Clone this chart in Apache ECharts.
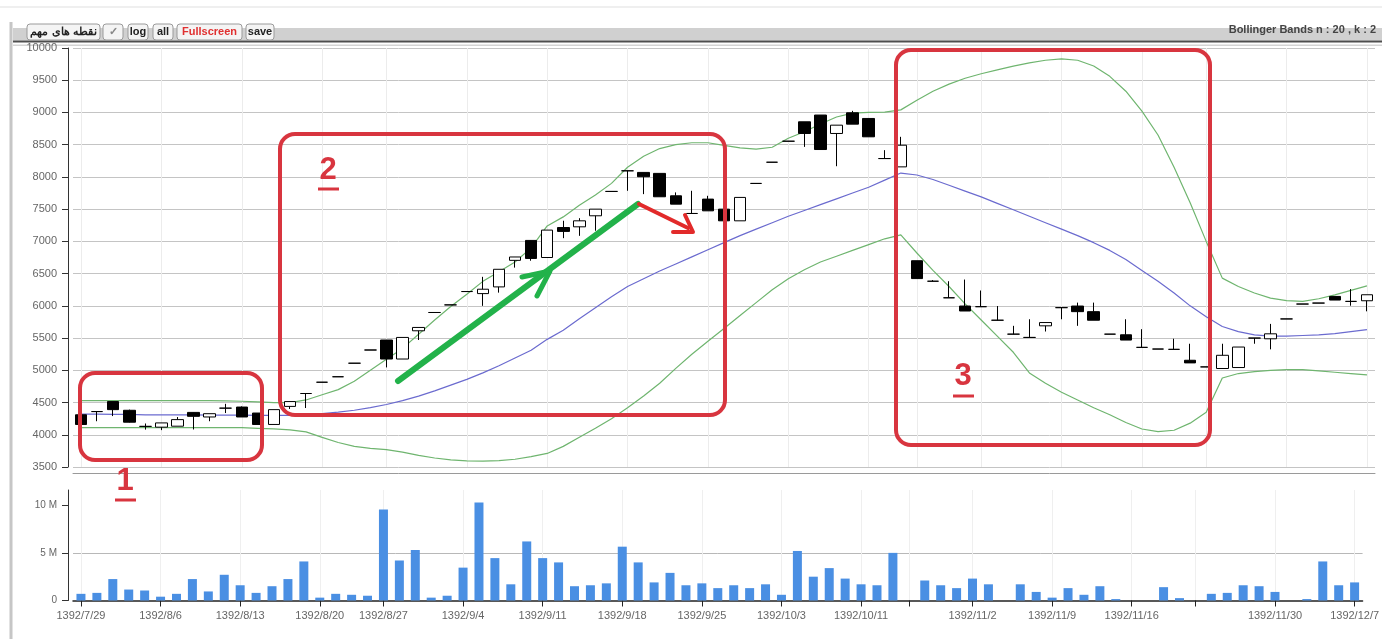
<!DOCTYPE html>
<html><head><meta charset="utf-8">
<script src="https://cdn.jsdelivr.net/npm/echarts@6/dist/echarts.min.js"></script>
<style>html,body{margin:0;padding:0;background:#fff}#c{width:1382px;height:639px}</style>
</head><body><div id="c"></div>
<script>
const categories = [
'1392/7/29','1392/7/30','1392/8/1','1392/8/4','1392/8/5','1392/8/6','1392/8/7','1392/8/8','1392/8/11','1392/8/12',
'1392/8/13','1392/8/14','1392/8/15','1392/8/18','1392/8/19','1392/8/20','1392/8/21','1392/8/25','1392/8/26','1392/8/27',
'1392/8/28','1392/8/29','1392/9/2','1392/9/3','1392/9/4','1392/9/5','1392/9/6','1392/9/9','1392/9/10','1392/9/11',
'1392/9/12','1392/9/13','1392/9/16','1392/9/17','1392/9/18','1392/9/19','1392/9/20','1392/9/23','1392/9/24','1392/9/25',
'1392/9/26','1392/9/27','1392/10/1','1392/10/2','1392/10/3','1392/10/7','1392/10/8','1392/10/9','1392/10/10','1392/10/11',
'1392/10/14','1392/10/15','1392/10/16','1392/10/29','1392/10/30','1392/11/1','1392/11/2','1392/11/5','1392/11/6','1392/11/7',
'1392/11/8','1392/11/9','1392/11/12','1392/11/13','1392/11/14','1392/11/15','1392/11/16','1392/11/19','1392/11/20','1392/11/21',
'1392/11/23','1392/11/26','1392/11/27','1392/11/28','1392/11/29','1392/11/30','1392/12/3','1392/12/4','1392/12/5','1392/12/6',
'1392/12/7'];

const opens = [4310,4360,4515,4380,4130,4118,4133,4347,4276,4413,4430,4337,4160,4440,4640,4815,4900,5110,5315,5470,
5175,5613,5897,6015,6222,6190,6294,6706,7015,6750,7215,7226,7397,7775,8095,8070,8055,7707,7433,7656,
7500,7319,7899,8228,8554,8855,8960,8674,8995,8907,8285,8156,6700,6382,6125,5997,5987,5777,5561,5510,
5690,5972,5997,5910,5561,5551,5356,5330,5325,5156,5053,5028,5043,5500,5489,5797,6028,6043,6146,6069,6079];
const closes = [4160,4360,4390,4195,4130,4184,4235,4286,4327,4413,4276,4160,4390,4515,4640,4815,4900,5110,5315,5175,
5510,5665,5897,6015,6222,6258,6567,6758,6735,7175,7155,7319,7500,7775,8095,8003,7692,7578,7433,7474,
7319,7682,7899,8228,8554,8674,8425,8803,8819,8622,8285,8492,6423,6382,6125,5920,5987,5777,5561,5510,
5741,5972,5910,5777,5561,5469,5356,5330,5325,5115,5053,5233,5361,5500,5566,5797,6028,6043,6090,6069,6172];
const lows = [4150,4210,4290,4190,4080,4072,4133,4082,4210,4337,4276,4160,4160,4400,4415,4815,4900,5110,5315,5045,
5175,5470,5897,6015,6222,6000,6205,6593,6700,6750,7050,7086,7165,7775,7785,7733,7692,7578,7433,7474,
7319,7319,7899,8228,8554,8466,8425,8166,8819,8622,8285,8156,6423,6382,6125,5920,5987,5777,5561,5510,
5602,5792,5690,5777,5561,5469,5356,5330,5325,5115,5053,5028,5043,5412,5325,5797,6028,6043,6090,6002,5915];
const highs = [4320,4360,4515,4390,4175,4184,4275,4350,4327,4480,4440,4337,4390,4515,4640,4815,4900,5110,5315,5470,
5510,5665,5897,6015,6222,6450,6567,6758,7020,7175,7320,7360,7500,7775,8095,8070,8055,7760,7785,7707,
7500,7682,7899,8228,8554,8855,8960,8803,9025,8907,8415,8622,6700,6400,6382,6408,6238,5997,5690,5792,
5741,5972,6050,6050,5561,5792,5638,5330,5490,5412,5053,5412,5361,5500,5720,5797,6028,6043,6146,6260,6172];

const bbUpper = [4530,4530,4530,4530,4530,4530,4530,4530,4530,4525,4520,4510,4500,4500,4540,4620,4700,4830,5000,5170,
5340,5560,5780,5990,6180,6380,6530,6680,6900,7240,7380,7560,7720,7900,8150,8320,8440,8500,8530,8530,
8490,8450,8430,8460,8600,8700,8820,8930,8990,9000,9005,9040,9190,9330,9440,9530,9600,9660,9720,9770,
9810,9830,9810,9720,9560,9330,9020,8650,8150,7600,7000,6430,6300,6200,6120,6080,6070,6110,6170,6240,6310];
const bbMiddle = [4320,4320,4315,4315,4310,4310,4310,4310,4305,4305,4305,4300,4300,4300,4310,4330,4350,4380,4420,4470,
4530,4600,4680,4770,4860,4960,5070,5190,5310,5480,5620,5800,5970,6140,6300,6420,6540,6650,6760,6870,
6980,7090,7190,7290,7390,7480,7570,7660,7750,7840,7950,8060,8030,7960,7870,7780,7690,7590,7490,7390,
7290,7190,7090,6980,6860,6720,6550,6380,6200,6000,5830,5680,5600,5550,5530,5530,5540,5550,5570,5600,5630];
const bbLower = [4110,4110,4110,4110,4110,4110,4110,4110,4110,4110,4110,4100,4090,4075,4045,3960,3880,3820,3790,3770,
3730,3680,3640,3610,3595,3590,3600,3620,3660,3710,3820,3960,4100,4250,4420,4600,4800,5030,5250,5450,
5650,5850,6050,6250,6420,6560,6680,6770,6860,6950,7040,7100,6820,6550,6300,6030,5780,5530,5280,4960,
4800,4660,4540,4420,4310,4190,4090,4050,4070,4180,4350,4880,4950,4980,5000,5010,5010,4990,4970,4950,4930];

// volume in millions
const volumes = [0.7,0.8,2.25,1.15,1.05,0.4,0.7,2.25,0.95,2.7,1.6,0.8,1.5,2.25,4.1,0.3,0.7,0.6,0.5,9.55,
4.2,5.3,0.3,0.5,3.45,10.3,4.45,1.7,6.2,4.45,4.0,1.5,1.6,1.8,5.65,4.0,1.9,2.9,1.6,1.8,
1.3,1.6,1.3,1.7,0.6,5.2,2.5,3.4,2.3,1.7,1.6,5.0,0,2.1,1.6,1.3,2.3,1.7,0,1.7,
0.9,0.3,1.3,0.6,1.5,0.15,0,0,1.4,0.25,0,0.7,0.8,1.6,1.5,0.9,0,0.15,4.1,1.6,1.9];

const tickIndexes = [0,5,10,15,19,24,29,34,39,44,49,52,56,61,66,70,75,80];
const unlabeledTicks = [52,70];
const volumeTicks = [0,5,10];

const chart = echarts.init(document.getElementById('c'), null, {renderer:'canvas'});
const candleData = categories.map((c,i)=>[opens[i],closes[i],lows[i],highs[i]]);
const isTick = (i)=>tickIndexes.indexOf(i)>=0;
const isLabel = (i)=>isTick(i) && unlabeledTicks.indexOf(i)<0;
const FONT = 'Liberation Sans';
const RED = '#d8353f';

function button(x, w, text, color){
  return {type:'group', children:[
    {type:'rect', shape:{x:x,y:24,width:w,height:16,r:3}, style:{fill:'#f4f4f4', stroke:'#9a9a9a', lineWidth:1}},
    {type:'text', x:x+w/2, y:32, style:{text:text, fill:color||'#222', fontSize:11, fontWeight:'bold', fontFamily:FONT, align:'center', verticalAlign:'middle'}}
  ]};
}

const option = {
  animation:false,
  backgroundColor:'#fff',
  grid:[{left:73,right:7,top:48,height:419},{left:73,right:7,top:490,height:110.5}],
  xAxis:[
    {type:'category', gridIndex:0, data:categories, boundaryGap:true, offset:6,
     axisLine:{show:true, onZero:false, lineStyle:{color:'#9a9a9a'}},
     axisTick:{show:false}, axisLabel:{show:false},
     splitLine:{show:true, alignWithLabel:true, interval:(i)=>isTick(i), lineStyle:{color:'#ececec'}}},
    {type:'category', gridIndex:1, data:categories, boundaryGap:true,
     axisLine:{show:true, onZero:false, lineStyle:{color:'#222', width:1.5}},
     axisTick:{show:true, alignWithLabel:true, interval:(i)=>isTick(i), length:6, lineStyle:{color:'#222'}},
     axisLabel:{show:true, interval:(i)=>isLabel(i), color:'#666', fontSize:11, fontFamily:FONT, margin:10},
     splitLine:{show:true, alignWithLabel:true, interval:(i)=>isTick(i), lineStyle:{color:'#efefef'}}}
  ],
  yAxis:[
    {type:'value', gridIndex:0, min:3500, max:10000, interval:500, offset:5,
     axisLine:{show:true, lineStyle:{color:'#333'}},
     axisTick:{show:true, length:6, lineStyle:{color:'#333'}},
     axisLabel:{color:'#666', fontSize:11, fontFamily:FONT, margin:11, formatter:(v)=>String(v)},
     splitLine:{show:true, lineStyle:{color:'#c4c4c4'}}},
    {type:'value', gridIndex:1, min:0, max:11.6, interval:5, offset:5,
     axisLine:{show:true, lineStyle:{color:'#333'}},
     axisTick:{show:true, length:6, customValues:volumeTicks, lineStyle:{color:'#333'}},
     axisLabel:{color:'#666', fontSize:10, fontFamily:FONT, margin:11, customValues:volumeTicks,
       formatter:(v)=> v===0 ? '0' : v+' M'},
     splitLine:{show:true, showMaxLine:false, showMinLine:false, lineStyle:{color:'#b8b8b8'}}}
  ],
  series:[
    {name:'upper', type:'line', xAxisIndex:0, yAxisIndex:0, data:bbUpper, showSymbol:false, smooth:false,
     lineStyle:{color:'#6fb56f', width:1.2}, z:2},
    {name:'middle', type:'line', xAxisIndex:0, yAxisIndex:0, data:bbMiddle, showSymbol:false,
     lineStyle:{color:'#6b6bcf', width:1.2}, z:2},
    {name:'lower', type:'line', xAxisIndex:0, yAxisIndex:0, data:bbLower, showSymbol:false,
     lineStyle:{color:'#6fb56f', width:1.2}, z:2},
    {name:'price', type:'candlestick', xAxisIndex:0, yAxisIndex:0, data:candleData, barWidth:12,
     itemStyle:{color:'#ffffff', color0:'#000000', borderColor:'#000000', borderColor0:'#000000', borderColorDoji:'#000000', borderWidth:1}, z:5},
    {name:'volume', type:'bar', xAxisIndex:1, yAxisIndex:1, data:volumes, barWidth:9,
     itemStyle:{color:'#4a8fe3'}}
  ],
  graphic:[
    {type:'line', shape:{x1:0,y1:7,x2:1382,y2:7}, style:{stroke:'#efefef', lineWidth:2}, silent:true},
    {type:'line', shape:{x1:11,y1:22,x2:11,y2:639}, style:{stroke:'#c6c6c6', lineWidth:3}, silent:true},
    {type:'rect', shape:{x:13,y:28,width:1369,height:12.5}, style:{fill:'#d0d0d0'}, silent:true},
    {type:'rect', shape:{x:13,y:40.5,width:1369,height:2}, style:{fill:'#4e4e4e'}, silent:true},
    {type:'rect', shape:{x:13,y:44.5,width:1369,height:1.5}, style:{fill:'#d4d4d4'}, silent:true},
    button(27,73,'نقطه های مهم'),
    button(103,20,'✓','#888'),
    button(128,20,'log'),
    button(153,20,'all'),
    button(177,65,'Fullscreen','#e03030'),
    button(246,28,'save'),
    {type:'text', x:1376, y:30, style:{text:'Bollinger Bands n : 20 , k : 2', fill:'#444', fontSize:11, fontWeight:'bold', fontFamily:FONT, align:'right', verticalAlign:'middle'}},
    {type:'rect', shape:{x:80,y:373,width:182,height:87,r:15}, style:{fill:'none', stroke:RED, lineWidth:4}, z:100},
    {type:'rect', shape:{x:280,y:134,width:445,height:281,r:15}, style:{fill:'none', stroke:RED, lineWidth:4}, z:100},
    {type:'rect', shape:{x:896,y:50,width:314,height:395,r:15}, style:{fill:'none', stroke:RED, lineWidth:4}, z:100},
    {type:'text', x:125, y:481, style:{text:'1', fill:RED, fontSize:31, fontWeight:'bold', fontFamily:FONT, align:'center', verticalAlign:'middle'}, z:100},
    {type:'line', shape:{x1:115,y1:500,x2:136,y2:500}, style:{stroke:RED, lineWidth:3}, z:100},
    {type:'text', x:328, y:170, style:{text:'2', fill:RED, fontSize:31, fontWeight:'bold', fontFamily:FONT, align:'center', verticalAlign:'middle'}, z:100},
    {type:'line', shape:{x1:318,y1:189,x2:339,y2:189}, style:{stroke:RED, lineWidth:3}, z:100},
    {type:'text', x:963, y:376, style:{text:'3', fill:RED, fontSize:31, fontWeight:'bold', fontFamily:FONT, align:'center', verticalAlign:'middle'}, z:100},
    {type:'line', shape:{x1:953,y1:396,x2:974,y2:396}, style:{stroke:RED, lineWidth:3}, z:100},
    {type:'polyline', shape:{points:[[398,381],[638,204]]}, style:{stroke:'#22b24a', lineWidth:6, fill:null, lineCap:'round'}, z:100},
    {type:'polyline', shape:{points:[[522,277],[550,271],[537,296]]}, style:{stroke:'#22b24a', lineWidth:5, fill:null, lineCap:'round', lineJoin:'round'}, z:100},
    {type:'polyline', shape:{points:[[639,204],[688,228]]}, style:{stroke:'#e22a2a', lineWidth:4, fill:null, lineCap:'round'}, z:100},
    {type:'polyline', shape:{points:[[673,232],[693,232],[685,215]]}, style:{stroke:'#e22a2a', lineWidth:4, fill:null, lineCap:'round', lineJoin:'round'}, z:100}
  ]
};
chart.setOption(option);
</script></body></html>
